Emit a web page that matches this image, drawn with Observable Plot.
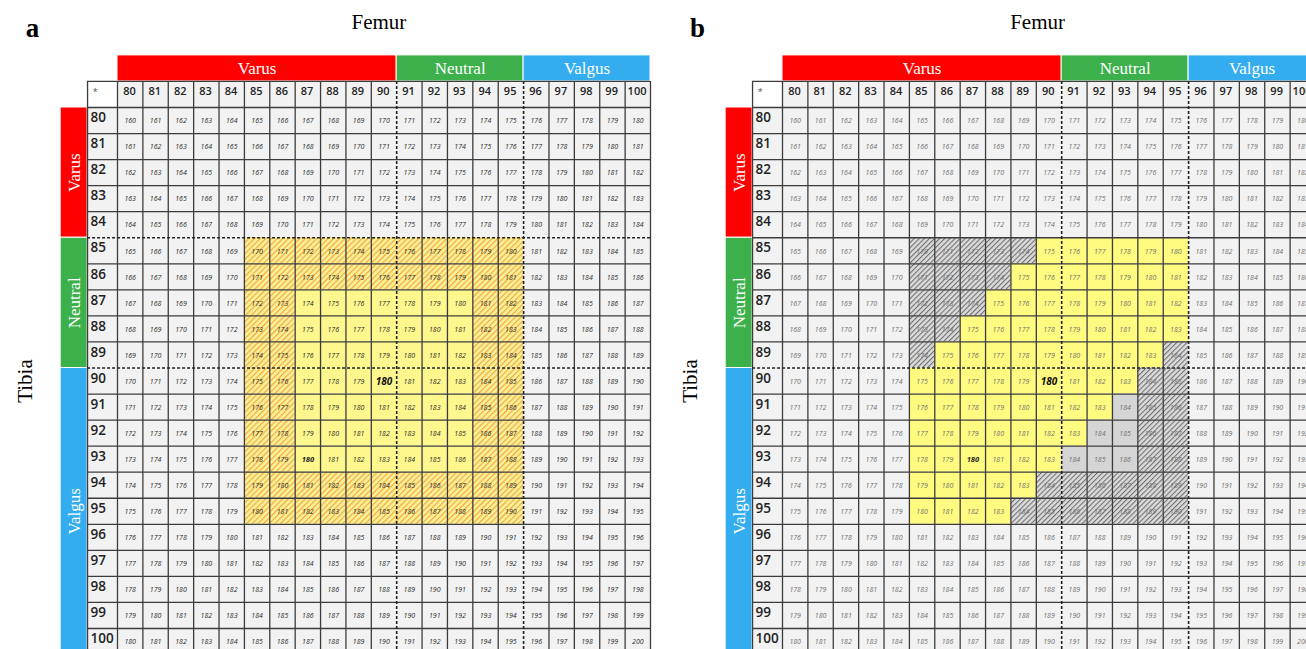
<!DOCTYPE html>
<html><head><meta charset="utf-8">
<script src="https://cdn.jsdelivr.net/npm/d3@7"></script>
<script src="https://cdn.jsdelivr.net/npm/@observablehq/plot@0.6"></script>
<style>
html,body{margin:0;padding:0;background:#fff;overflow:hidden}
#wrap{display:flex;width:1306px;height:649px;overflow:hidden}
#wrap > svg{flex:none}
</style></head><body><div id="wrap"></div>
<script>
// ---- data ----
const femur = [80,81,82,83,84,85,86,87,88,89,90,91,92,93,94,95,96,97,98,99,100];
const tibia = [80,81,82,83,84,85,86,87,88,89,90,91,92,93,94,95,96,97,98,99,100];
const values = [
  [160,161,162,163,164,165,166,167,168,169,170,171,172,173,174,175,176,177,178,179,180],
  [161,162,163,164,165,166,167,168,169,170,171,172,173,174,175,176,177,178,179,180,181],
  [162,163,164,165,166,167,168,169,170,171,172,173,174,175,176,177,178,179,180,181,182],
  [163,164,165,166,167,168,169,170,171,172,173,174,175,176,177,178,179,180,181,182,183],
  [164,165,166,167,168,169,170,171,172,173,174,175,176,177,178,179,180,181,182,183,184],
  [165,166,167,168,169,170,171,172,173,174,175,176,177,178,179,180,181,182,183,184,185],
  [166,167,168,169,170,171,172,173,174,175,176,177,178,179,180,181,182,183,184,185,186],
  [167,168,169,170,171,172,173,174,175,176,177,178,179,180,181,182,183,184,185,186,187],
  [168,169,170,171,172,173,174,175,176,177,178,179,180,181,182,183,184,185,186,187,188],
  [169,170,171,172,173,174,175,176,177,178,179,180,181,182,183,184,185,186,187,188,189],
  [170,171,172,173,174,175,176,177,178,179,180,181,182,183,184,185,186,187,188,189,190],
  [171,172,173,174,175,176,177,178,179,180,181,182,183,184,185,186,187,188,189,190,191],
  [172,173,174,175,176,177,178,179,180,181,182,183,184,185,186,187,188,189,190,191,192],
  [173,174,175,176,177,178,179,180,181,182,183,184,185,186,187,188,189,190,191,192,193],
  [174,175,176,177,178,179,180,181,182,183,184,185,186,187,188,189,190,191,192,193,194],
  [175,176,177,178,179,180,181,182,183,184,185,186,187,188,189,190,191,192,193,194,195],
  [176,177,178,179,180,181,182,183,184,185,186,187,188,189,190,191,192,193,194,195,196],
  [177,178,179,180,181,182,183,184,185,186,187,188,189,190,191,192,193,194,195,196,197],
  [178,179,180,181,182,183,184,185,186,187,188,189,190,191,192,193,194,195,196,197,198],
  [179,180,181,182,183,184,185,186,187,188,189,190,191,192,193,194,195,196,197,198,199],
  [180,181,182,183,184,185,186,187,188,189,190,191,192,193,194,195,196,197,198,199,200]
];
const groupNames = ["Varus", "Neutral", "Valgus"];
const femurGroupFirst = [80, 91, 96];
const femurGroupLast  = [90, 95, 100];
const tibiaGroupFirst = [80, 85, 90];
const tibiaGroupLast  = [84, 89, 100];
// cell status per tibia row (femur 80..100): . plain, y yellow, h hatched, g grey
const statusA = [
  ".....................",".....................",".....................",".....................",".....................",
  ".....hhhhhhhhhhh.....",".....hhhhhhhhhhh.....",
  ".....hhyyyyyyyhh.....",".....hhyyyyyyyhh.....",".....hhyyyyyyyhh.....",".....hhyyyyyyyhh.....",
  ".....hhyyyyyyyhh.....",".....hhyyyyyyyhh.....",".....hhyyyyyyyhh.....",
  ".....hhhhhhhhhhh.....",".....hhhhhhhhhhh.....",
  ".....................",".....................",".....................",".....................","....................."
];
const statusB = [
  ".....................",".....................",".....................",".....................",".....................",
  ".....hhhhhyyyyyy.....",".....hhhhyyyyyyy.....",".....hhhyyyyyyyy.....",".....hhyyyyyyyyy.....",
  ".....hyyyyyyyyyh.....",".....yyyyyyyyyhh.....",".....yyyyyyyyghh.....",".....yyyyyyygghh.....",
  ".....yyyyyyggghh.....",".....yyyyyhhhhhh.....",".....yyyyhhhhhhh.....",
  ".....................",".....................",".....................",".....................","....................."
];
// [tibia, femur] of emphasised values
const boldA = [[90, 90], [93, 87]];
const boldB = [[90, 90], [93, 87]];
const panelLetters = ["a", "b"];

// ---- drawing ----
const SERIF = "'Liberation Serif', 'DejaVu Serif', serif";
const SANS = "'Open Sans', 'Liberation Sans', sans-serif";
const groupColors = ["#fe0000", "#3bb04b", "#33adef"];

function panel(cfg) {
  const X = f => f - femur[0];
  const Y = t => t - tibia[0];
  const starL = -1.18, bandL = -2.24;
  const nC = femur.length, nR = tibia.length;
  const cells = [];
  tibia.forEach((t, i) => femur.forEach((f, j) => cells.push({
    t, f, v: values[i][j], s: cfg.status[i][j],
    big: t === cfg.bold[0][0] && f === cfg.bold[0][1],
    bold: cfg.bold.some(([bt, bf]) => bt === t && bf === f)
  })));
  const rect = (s, fill) => Plot.rect(cells.filter(d => d.s === s), {
    x1: d => X(d.f), x2: d => X(d.f) + 1, y1: d => Y(d.t), y2: d => Y(d.t) + 1, fill
  });
  const dashX = femurGroupFirst.slice(1).map(X);
  const dashY = cfg.dashTibia.map(Y);
  const vLines = [starL, ...d3.range(0, nC + 1)].filter(x => !dashX.includes(x));
  const hLines = d3.range(-1, nR + 1).filter(y => !dashY.includes(y));
  const fg = groupNames.map((n, k) => ({n, c: groupColors[k], a: X(femurGroupFirst[k]), b: X(femurGroupLast[k]) + 1}));
  const tg = groupNames.map((n, k) => ({n, c: groupColors[k], a: Y(tibiaGroupFirst[k]), b: Y(tibiaGroupLast[k]) + 1}));
  const plain = cells.filter(d => !d.bold);
  const svg = Plot.plot({
    width: 653, height: 649, margin: 0,
    style: {background: "white", overflow: "hidden"},
    x: {type: "linear", domain: [0, nC], range: cfg.xRange, axis: null},
    y: {type: "linear", domain: [0, nR], range: [107, 107 + 26.05 * nR], axis: null},
    marks: [
      // femur group bands
      Plot.rect(fg, {x1: "a", x2: "b", y1: () => -2, y2: () => -1, fill: "c", stroke: "white", strokeWidth: 1}),
      Plot.text(fg, {x: d => (d.a + d.b) / 2, y: () => -1.5, text: "n", fill: "white", fontFamily: SERIF, fontSize: 17}),
      // tibia group bands
      Plot.rect(tg, {x1: () => bandL, x2: () => starL, y1: "a", y2: "b", fill: "c", stroke: "white", strokeWidth: 1}),
      Plot.text(tg, {x: () => (bandL + starL) / 2, y: d => (d.a + d.b) / 2, text: "n", rotate: -90, fill: "white", fontFamily: SERIF, fontSize: 17}),
      // header row & row headers
      Plot.rect(femur, {x1: d => X(d), x2: d => X(d) + 1, y1: () => -1, y2: () => 0, fill: "#f2f2f2"}),
      Plot.rect(tibia, {x1: () => starL, x2: () => 0, y1: d => Y(d), y2: d => Y(d) + 1, fill: "#f2f2f2"}),
      // cells
      rect(".", "#f2f2f2"),
      rect("y", cfg.yellow),
      rect("g", "#d5d5d5"),
      rect("h", `url(#${cfg.hatchId})`),
      // grid
      Plot.ruleX(vLines, {x: d => d, y1: () => -1, y2: () => nR, stroke: "#3c3c3c", strokeWidth: 1.3}),
      Plot.ruleY(hLines, {y: d => d, x1: d => d === -1 ? starL : starL, x2: () => nC, stroke: "#3c3c3c", strokeWidth: 1.3}),
      Plot.ruleX(dashX, {x: d => d, y1: () => -1, y2: () => nR, stroke: "#222", strokeWidth: 1.6, strokeDasharray: "3,2"}),
      Plot.ruleY(dashY, {y: d => d, x1: () => starL, x2: () => nC, stroke: "#222", strokeWidth: 1.6, strokeDasharray: "3,2"}),
      // header texts
      Plot.text(["*"], {x: () => starL + 0.3, y: () => -0.6, text: d => d, fontSize: 9, fill: "#555", fontFamily: SANS}),
      Plot.text(femur, {x: d => X(d) + 0.47, y: () => -0.62, text: d => String(d), fontSize: 11, fontWeight: 600, fill: "#222", fontFamily: SANS}),
      Plot.text(tibia, {x: () => starL + 0.12, y: d => Y(d) + 0.4, text: d => String(d), textAnchor: "start", fontSize: 13.5, fontWeight: 600, fill: "#222", fontFamily: SANS}),
      // cell values
      Plot.text(plain, {x: d => X(d.f) + 0.5, y: d => Y(d.t) + 0.52, text: d => String(d.v), fontSize: 7, fontStyle: "italic", fill: cfg.valueColor, fontFamily: SANS}),
      Plot.text(cells.filter(d => d.bold && !d.big), {x: d => X(d.f) + 0.5, y: d => Y(d.t) + 0.52, text: d => String(d.v), fontSize: 7.5, fontStyle: "italic", fontWeight: "bold", fill: "#222", fontFamily: SANS}),
      Plot.text(cells.filter(d => d.big), {x: d => X(d.f) + 0.5, y: d => Y(d.t) + 0.52, text: d => String(d.v), fontSize: 10, fontStyle: "italic", fontWeight: "bold", fill: "#111", fontFamily: SANS}),
      // titles
      Plot.text([cfg.letter], {x: () => -3.35, y: () => -3.05, text: d => d, fontSize: 27, fontWeight: "bold", fontFamily: SERIF, fill: "#000"}),
      Plot.text(["Femur"], {x: () => cfg.femurX, y: () => -3.27, text: d => d, fontSize: 21, fontFamily: SERIF, fill: "#000"}),
      Plot.text(["Tibia"], {x: () => -3.62, y: () => 10.5, text: d => d, rotate: -90, fontSize: 21, fontFamily: SERIF, fill: "#000"})
    ]
  });
  const defs = d3.select(svg).insert("defs", ":first-child");
  const p = defs.append("pattern").attr("id", cfg.hatchId).attr("patternUnits", "userSpaceOnUse")
    .attr("width", cfg.hatchGap).attr("height", cfg.hatchGap).attr("patternTransform", "rotate(45)");
  p.append("rect").attr("width", cfg.hatchGap).attr("height", cfg.hatchGap).attr("fill", cfg.hatchBg);
  p.append("line").attr("x1", 0.5).attr("y1", 0).attr("x2", 0.5).attr("y2", cfg.hatchGap)
    .attr("stroke", cfg.hatchLine).attr("stroke-width", cfg.hatchWidth);
  return svg;
}

const wrap = document.getElementById("wrap");
wrap.append(panel({
  letter: panelLetters[0], status: statusA, bold: boldA, xRange: [117, 650], femurX: 10.3,
  dashTibia: [85, 90], yellow: "#fdf78e", valueColor: "#2a2a2a",
  hatchId: "hatchOrange", hatchBg: "#fbf09a", hatchLine: "#f0ab3c", hatchGap: 4, hatchWidth: 1.4
}));
wrap.append(panel({
  letter: panelLetters[1], status: statusB, bold: boldB, xRange: [129, 662], femurX: 10.05,
  dashTibia: [90], yellow: "#fffb80", valueColor: "#707070",
  hatchId: "hatchGrey", hatchBg: "#dadada", hatchLine: "#6e6e6e", hatchGap: 3.6, hatchWidth: 1.1
}));
</script></body></html>
